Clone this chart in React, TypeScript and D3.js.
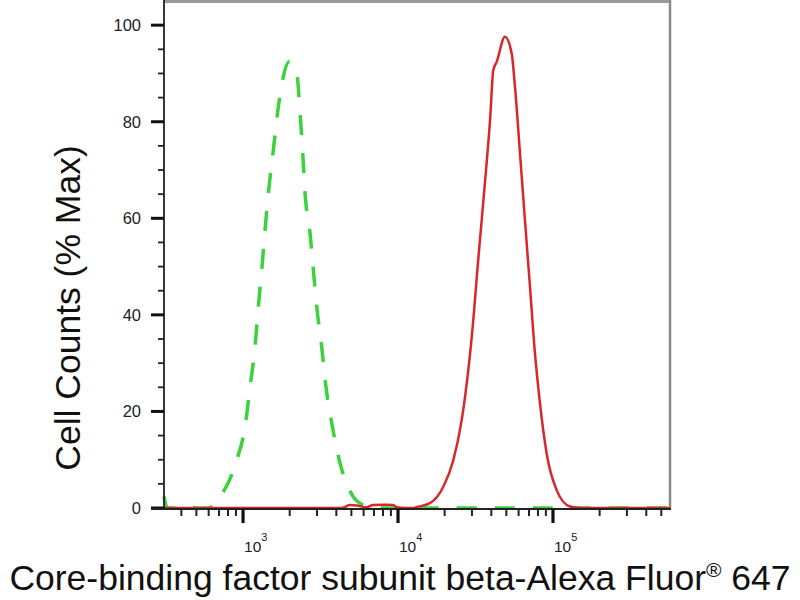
import React from "react";
import * as d3 from "d3";

// ---- Data ----
const xMajorTicks = [1e3, 1e4, 1e5];
const xMajorExponents = ["3", "4", "5"];
const xMinorMultipliers = [2, 3, 4, 5, 6, 7, 8, 9];
const yTicks = [0, 20, 40, 60, 80, 100];
const yMinorTicks = [5, 10, 15, 25, 30, 35, 45, 50, 55, 65, 70, 75, 85, 90, 95];

// Control (green dashed)
const controlIntensity = [309, 325, 390, 420, 460, 500, 600, 643, 711, 910, 1030, 1110, 1195, 1255, 1320, 1387, 1457, 1568, 1690, 1990, 2220, 2333, 2428, 2512, 2706, 2843, 2988, 3218, 3430, 3736, 4225, 5150, 5945, 7000, 569000];
const controlCount = [2.4, 0, 0, 0.35, 0.2, 0, 0, 0.6, 2.3, 9.9, 16.8, 25.1, 33.4, 41.7, 49.3, 57.6, 65.2, 74.1, 83.1, 92.4, 90.1, 81.8, 73.5, 65.2, 56.9, 49.3, 41.7, 33.4, 25.1, 17.6, 9.3, 2.3, 0.6, 0, 0];

// Stained (red solid)
const stainedIntensity = [309, 4000, 4410, 4900, 5410, 6280, 6900, 8240, 9290, 10000, 12500, 13200, 16080, 19600, 22740, 25760, 28430, 30610, 32500, 34670, 36980, 39250, 41200, 43330, 48980, 54170, 56870, 61240, 65940, 71070, 76530, 82420, 90990, 105600, 128800, 150000, 569000];
const stainedCount = [0, 0, 0.05, 0.6, 0.5, 0.15, 0.6, 0.65, 0.6, 0.05, 0, 0.2, 1.0, 4.4, 9.9, 18.2, 28.6, 38.9, 49.3, 59.6, 70.0, 80.3, 90.7, 92.4, 97.6, 94.1, 87.2, 73.5, 59.6, 45.8, 32.0, 21.7, 11.3, 3.7, 0.3, 0, 0];

const xTitle = "Core-binding factor subunit beta-Alexa Fluor";
const xTitleMark = "\u00AE";
const xTitleTail = " 647";
const yTitle = "Cell Counts (% Max)";

const FONT = "'Liberation Sans', Arial, sans-serif";

export default function App() {
  const left = 164, right = 670, top = 2, bottom = 508;
  const x = d3.scaleLog().domain([309, 569000]).range([left, right]);
  const y = d3.scaleLinear().domain([0, 104.8]).range([bottom, top]);

  const minorX: number[] = [];
  [100, 1000, 10000, 100000].forEach((d) =>
    xMinorMultipliers.forEach((m) => {
      const v = d * m;
      if (v >= 309 && v <= 569000) minorX.push(v);
    })
  );

  const line = d3
    .line<[number, number]>()
    .x((d) => x(d[0]))
    .y((d) => y(d[1]))
    .curve(d3.curveMonotoneX);

  const controlPts = controlIntensity.map((v, i) => [v, controlCount[i]] as [number, number]);
  const stainedPts = stainedIntensity.map((v, i) => [v, stainedCount[i]] as [number, number]);

  const axisY = 509;

  return (
    <svg
      width={800}
      height={600}
      style={{ position: "absolute", left: 0, top: 0, background: "#fff" }}
      fontFamily={FONT}
    >
      <rect x={0} y={0} width={800} height={600} fill="#fff" />
      {/* frame */}
      <line x1={left} x2={right + 1} y1={1.5} y2={1.5} stroke="#9a9a9a" strokeWidth={3} />
      <line x1={right} x2={right} y1={0} y2={axisY} stroke="#8a8a8a" strokeWidth={2.5} />

      {/* curves */}
      <path d={line(controlPts) || ""} fill="none" stroke="#3dd13d" strokeWidth={3.5} strokeDasharray="20 18" />
      <path d={line(stainedPts) || ""} fill="none" stroke="#d8262b" strokeWidth={2.5} />

      {/* y axis */}
      <line x1={left} x2={left} y1={0} y2={axisY + 1} stroke="#222" strokeWidth={1.8} />
      {yTicks.map((t) => (
        <g key={"yt" + t}>
          <line x1={left - 13} x2={left} y1={y(t)} y2={y(t)} stroke="#111" strokeWidth={3} />
          <text x={141} y={y(t) + 6} fontSize={16.5} textAnchor="end" fill="#222">
            {t}
          </text>
        </g>
      ))}
      {yMinorTicks.map((t) => (
        <line key={"ym" + t} x1={left - 6} x2={left} y1={y(t)} y2={y(t)} stroke="#222" strokeWidth={1.8} />
      ))}

      {/* x axis */}
      <line x1={left - 13} x2={right + 1} y1={axisY} y2={axisY} stroke="#222" strokeWidth={2} />
      {minorX.map((v) => (
        <line key={"xm" + v} x1={x(v)} x2={x(v)} y1={axisY} y2={axisY + 7} stroke="#222" strokeWidth={2} />
      ))}
      {xMajorTicks.map((v, i) => (
        <g key={"xt" + v}>
          <line x1={x(v)} x2={x(v)} y1={axisY} y2={axisY + 14} stroke="#111" strokeWidth={3.2} />
          <text x={x(v) + 1} y={552} fontSize={15.5} fill="#222">
            10
            <tspan fontSize={11} dy={-11}>
              {xMajorExponents[i]}
            </tspan>
          </text>
        </g>
      ))}

      {/* titles */}
      <text x={400} y={590} fontSize={35.5} textAnchor="middle" fill="#111">
        {xTitle}
        <tspan fontSize={21} dy={-13}>
          {xTitleMark}
        </tspan>
        <tspan dy={13}>{xTitleTail}</tspan>
      </text>
      <text
        transform={`translate(80,308) rotate(-90)`}
        fontSize={35.5}
        textAnchor="middle"
        fill="#111"
      >
        {yTitle}
      </text>
    </svg>
  );
}
